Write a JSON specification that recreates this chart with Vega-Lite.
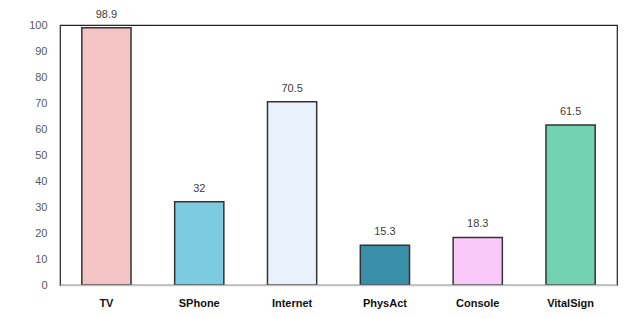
{
  "$schema": "https://vega.github.io/schema/vega-lite/v6.json",
  "autosize": {"type": "none"},
  "padding": {"left": 60, "top": 25, "right": 23, "bottom": 33},
  "width": 557,
  "height": 260,
  "background": "white",
  "config": {
    "view": {"stroke": "#222222", "strokeWidth": 1.2},
    "font": "Liberation Sans"
  },
  "data": {
    "values": [
      {"cat": "TV", "value": 98.9, "color": "#F4C3C4"},
      {"cat": "SPhone", "value": 32, "color": "#7DCBE0"},
      {"cat": "Internet", "value": 70.5, "color": "#E9F2FC"},
      {"cat": "PhysAct", "value": 15.3, "color": "#3A8FA8"},
      {"cat": "Console", "value": 18.3, "color": "#F9C9FA"},
      {"cat": "VitalSign", "value": 61.5, "color": "#70D2B0"}
    ]
  },
  "encoding": {
    "x": {
      "field": "cat",
      "type": "nominal",
      "sort": null,
      "title": null,
      "scale": {"paddingInner": 0.47, "paddingOuter": 0.235},
      "axis": {
        "labelAngle": 0,
        "labelFontWeight": "bold",
        "labelFontSize": 11,
        "labelColor": "#111111",
        "labelPadding": 12,
        "ticks": false,
        "domainColor": "#BFBFBF",
        "domainWidth": 1.5,
        "zindex": 1
      }
    },
    "y": {
      "field": "value",
      "type": "quantitative",
      "title": null,
      "scale": {"domain": [0, 100]},
      "axis": {
        "values": [0, 10, 20, 30, 40, 50, 60, 70, 80, 90, 100],
        "grid": false,
        "domain": false,
        "ticks": false,
        "labelFontSize": 11,
        "labelColor": "#595959",
        "labelPadding": 13
      }
    }
  },
  "layer": [
    {
      "mark": {"type": "bar", "stroke": "#333333", "strokeWidth": 1.5},
      "encoding": {
        "color": {"field": "color", "type": "nominal", "scale": null}
      }
    },
    {
      "mark": {"type": "text", "dy": -8, "fontSize": 11, "color": "#404040", "baseline": "bottom"},
      "encoding": {
        "text": {"field": "value", "type": "quantitative"}
      }
    }
  ]
}
